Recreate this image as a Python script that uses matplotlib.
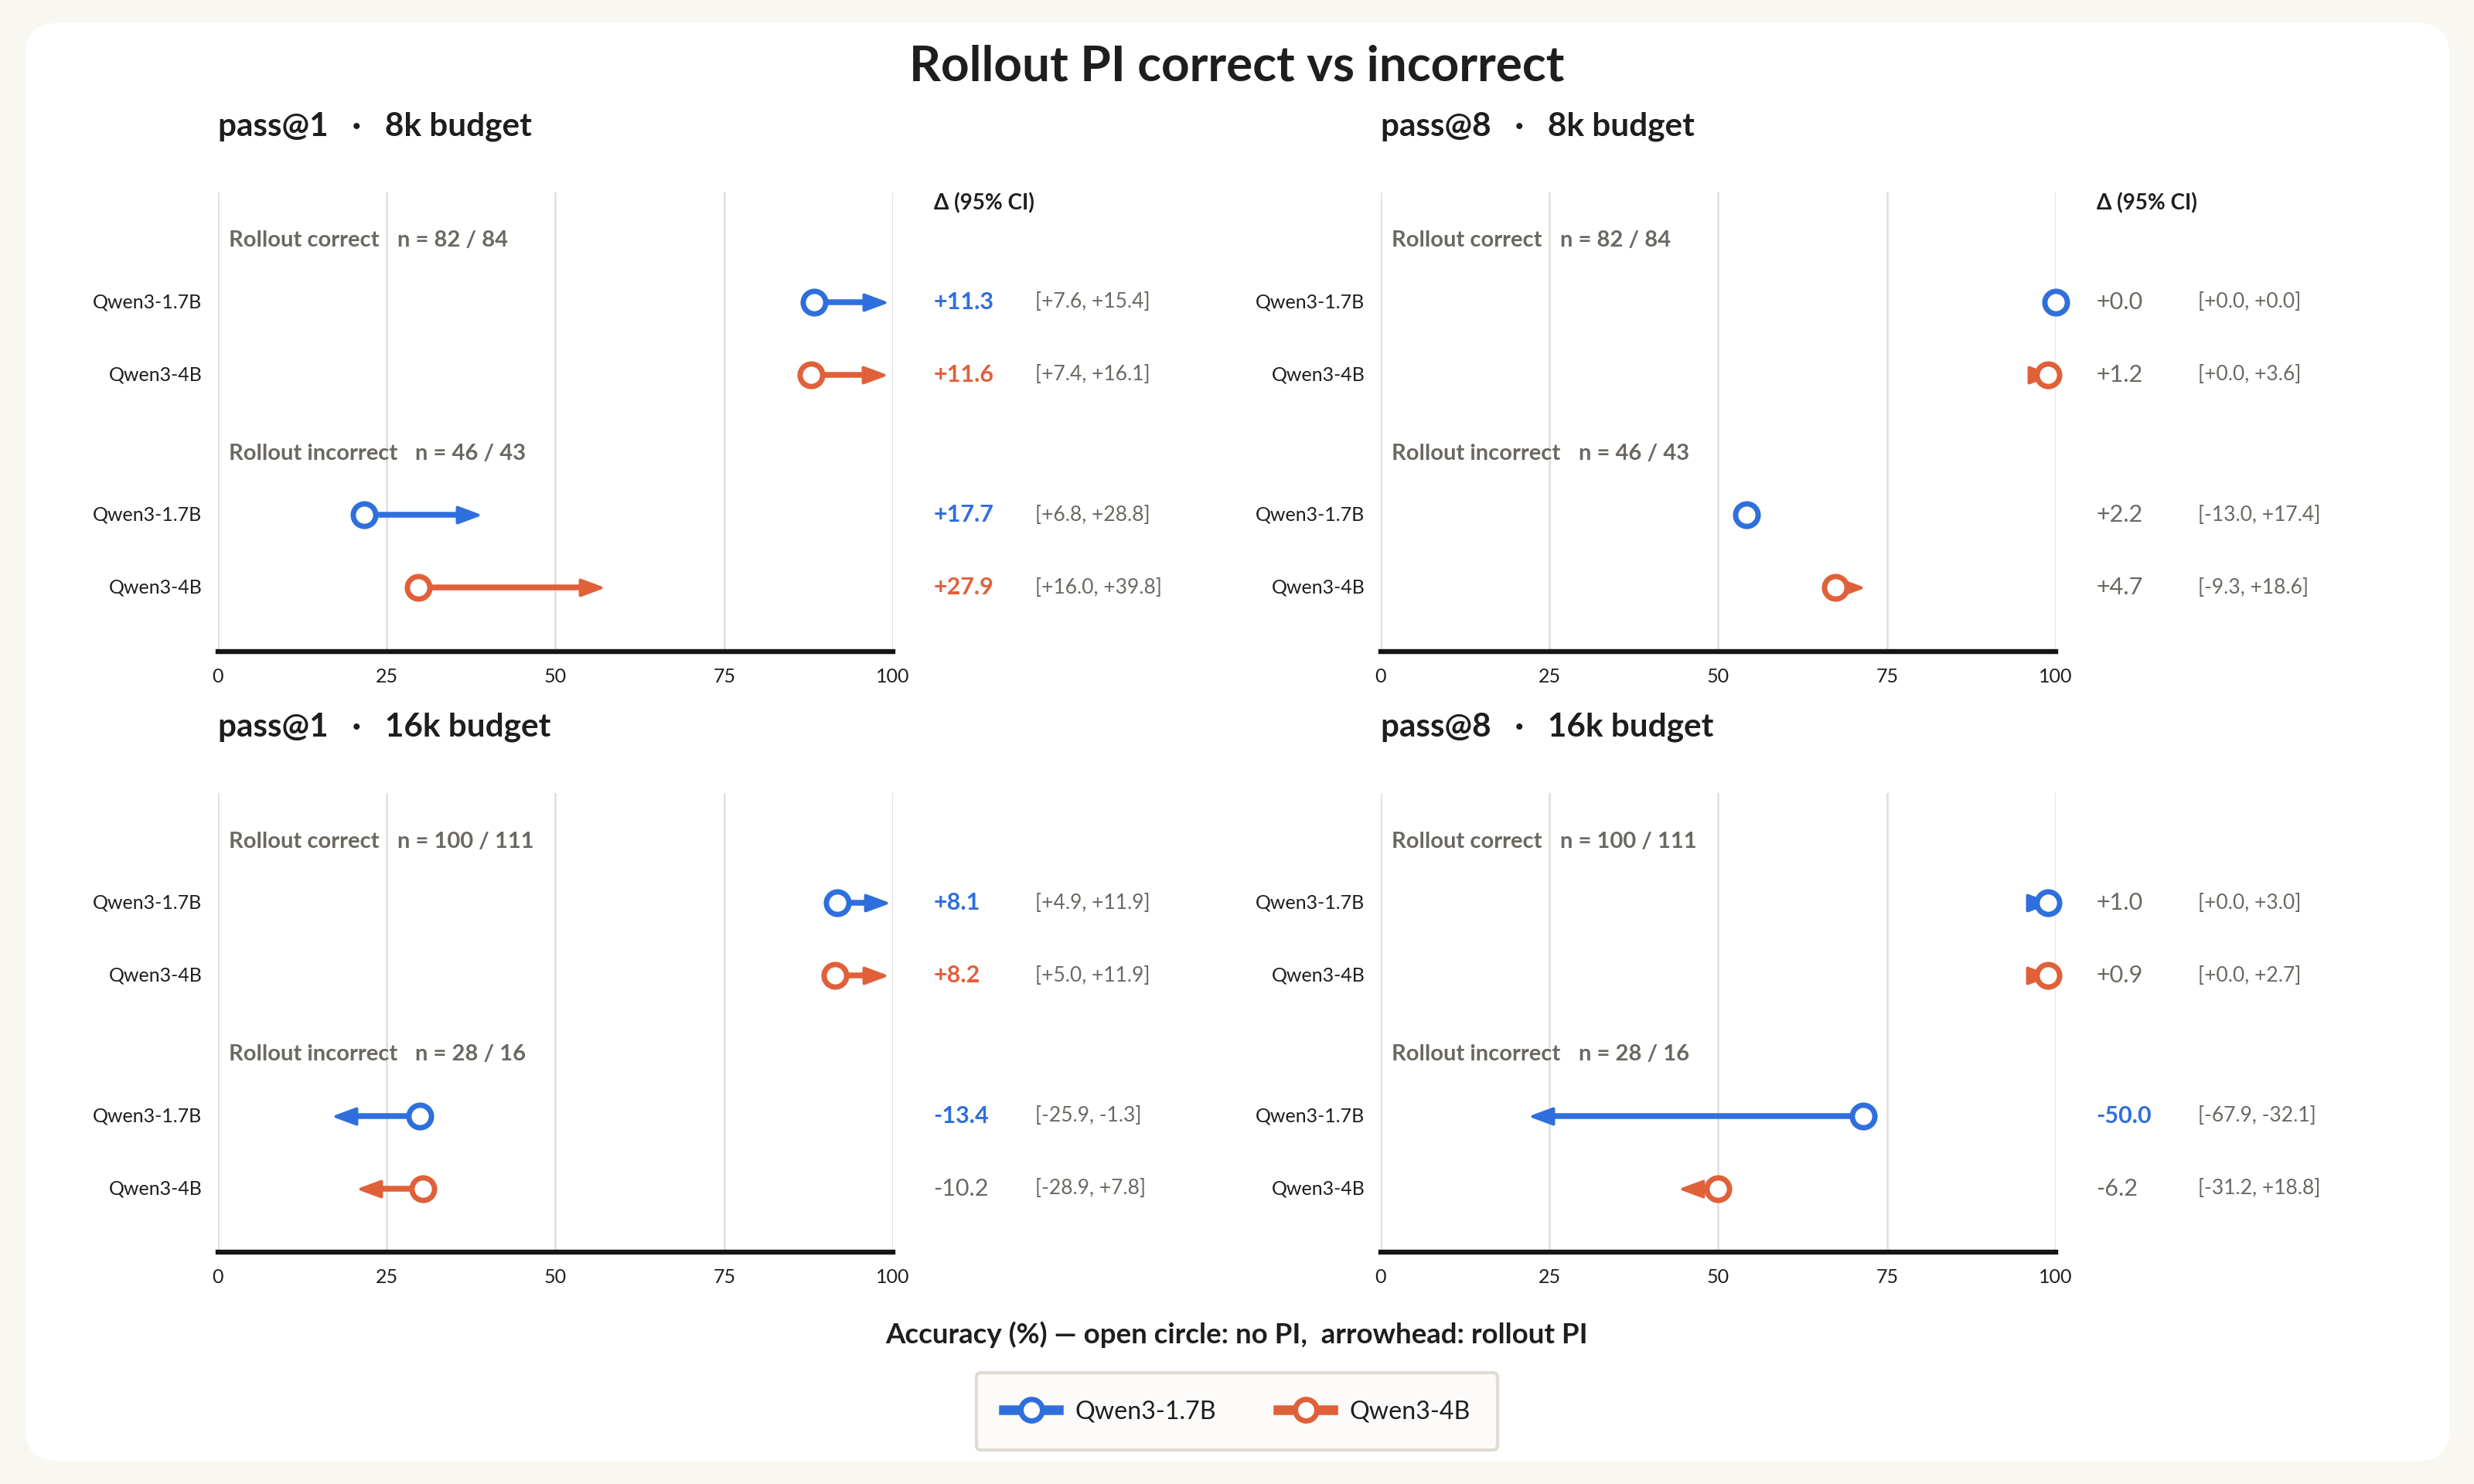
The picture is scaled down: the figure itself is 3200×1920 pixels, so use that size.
import matplotlib

matplotlib.use("Agg")
import matplotlib.pyplot as plt
import matplotlib.transforms as mtransforms
from matplotlib.lines import Line2D
from matplotlib.markers import MarkerStyle
from matplotlib.patches import FancyBboxPatch
from matplotlib.path import Path

plt.rcParams["font.family"] = ["Lato", "DejaVu Sans"]

MODELS = ["Qwen3-1.7B", "Qwen3-4B"]
GROUPS = ["Rollout correct", "Rollout incorrect"]
TICKS = [0, 25, 50, 75, 100]
PANEL_TITLES = [
    "pass@1   ·   8k budget",
    "pass@8   ·   8k budget",
    "pass@1   ·   16k budget",
    "pass@8   ·   16k budget",
]

# row order in every panel: correct/1.7B, correct/4B, incorrect/1.7B, incorrect/4B
P1_8K_NO_PI = [88.3, 87.9, 21.7, 29.7]
P1_8K_ROLLOUT = [99.6, 99.5, 39.4, 57.6]
P1_8K_DELTA = [11.3, 11.6, 17.7, 27.9]
P1_8K_CI_LO = [7.6, 7.4, 6.8, 16.0]
P1_8K_CI_HI = [15.4, 16.1, 28.8, 39.8]

P8_8K_NO_PI = [100.0, 98.8, 54.2, 67.3]
P8_8K_ROLLOUT = [100.0, 100.0, 54.2, 72.0]
P8_8K_DELTA = [0.0, 1.2, 2.2, 4.7]
P8_8K_CI_LO = [0.0, 0.0, -13.0, -9.3]
P8_8K_CI_HI = [0.0, 3.6, 17.4, 18.6]

P1_16K_NO_PI = [91.8, 91.4, 29.9, 30.4]
P1_16K_ROLLOUT = [99.9, 99.6, 16.5, 20.2]
P1_16K_DELTA = [8.1, 8.2, -13.4, -10.2]
P1_16K_CI_LO = [4.9, 5.0, -25.9, -28.9]
P1_16K_CI_HI = [11.9, 11.9, -1.3, 7.8]

P8_16K_NO_PI = [98.8, 98.8, 71.5, 50.0]
P8_16K_ROLLOUT = [99.8, 99.7, 21.5, 43.8]
P8_16K_DELTA = [1.0, 0.9, -50.0, -6.2]
P8_16K_CI_LO = [0.0, 0.0, -67.9, -31.2]
P8_16K_CI_HI = [3.0, 2.7, -32.1, 18.8]

N_8K = [(82, 84), (46, 43)]
N_16K = [(100, 111), (28, 16)]

PANELS = [
    (P1_8K_NO_PI, P1_8K_ROLLOUT, P1_8K_DELTA, P1_8K_CI_LO, P1_8K_CI_HI, N_8K),
    (P8_8K_NO_PI, P8_8K_ROLLOUT, P8_8K_DELTA, P8_8K_CI_LO, P8_8K_CI_HI, N_8K),
    (P1_16K_NO_PI, P1_16K_ROLLOUT, P1_16K_DELTA, P1_16K_CI_LO, P1_16K_CI_HI, N_16K),
    (P8_16K_NO_PI, P8_16K_ROLLOUT, P8_16K_DELTA, P8_16K_CI_LO, P8_16K_CI_HI, N_16K),
]

COLORS = ["#2F6FDD", "#E0603A"]
GRAY = "#6B6862"
INK = "#1E1E1E"
GRID = "#E4E1DA"
PAGE_BG = "#F8F7F2"

W, H, DPI = 3200, 1920, 200
PANEL_LEFT = [281.6, 1785.7]
PANEL_TOP = [249.0, 1026.4]
PANEL_W, PANEL_H = 873.5, 594.0
SUBTITLE_Y = [163.3, 940.8]

# vertical slots inside a panel (y grows downward)
Y_SPAN = 291.0
HEADER_Y = [30.5, 165.5]
ROW_Y = [69.5, 115.5, 204.5, 250.5]

HEAD_LEN_PX = 27
HEAD_GAP_PX = 8


def head_marker(direction):
    # tip sits slightly short of the value, like the reference renderer
    total = HEAD_LEN_PX + HEAD_GAP_PX
    tip = -HEAD_GAP_PX / total
    half = 10 / total
    verts = [(tip, 0), (-1, half), (-1, -half), (tip, 0)]
    if direction < 0:
        verts = [(-x, y) for x, y in verts]
    path = Path(verts, [Path.MOVETO, Path.LINETO, Path.LINETO, Path.CLOSEPOLY])
    return MarkerStyle(path, joinstyle="round")


def fmt(v):
    return f"{v:+.1f}"


fig = plt.figure(figsize=(W / DPI, H / DPI), dpi=DPI)
fig.patch.set_facecolor(PAGE_BG)
card = FancyBboxPatch(
    (33, 30), 3135, 1860,
    boxstyle="round,pad=0,rounding_size=40",
    transform=mtransforms.IdentityTransform(),
    facecolor="white", edgecolor="none", zorder=-5,
)
fig.add_artist(card)

fig.text(0.5, 1 - 86 / H, "Rollout PI correct vs incorrect", ha="center", va="center",
         fontsize=23, fontweight="bold", color=INK)

px_per_unit = PANEL_W / 100.0
head_len_units = HEAD_LEN_PX / px_per_unit
head_gap_units = HEAD_GAP_PX / px_per_unit
head_ms = (HEAD_LEN_PX + HEAD_GAP_PX) / DPI * 72 * 2

for idx, (no_pi, rollout, delta, lo, hi, ns) in enumerate(PANELS):
    col, row = idx % 2, idx // 2
    left = PANEL_LEFT[col]
    top = PANEL_TOP[row]
    ax = fig.add_axes([left / W, 1 - (top + PANEL_H) / H, PANEL_W / W, PANEL_H / H])
    ax.set_facecolor("none")
    ax.set_xlim(0, 100)
    ax.set_ylim(Y_SPAN, 0)
    ax.set_xticks(TICKS)
    ax.set_yticks([])
    ax.tick_params(axis="x", length=0, pad=7.5, labelsize=9, labelcolor=INK)
    ax.grid(axis="x", color=GRID, linewidth=1.0, zorder=0)
    for side in ("left", "right", "top"):
        ax.spines[side].set_visible(False)
    ax.spines["bottom"].set_color("#151515")
    ax.spines["bottom"].set_linewidth(2.3)

    fig.text(left / W, 1 - SUBTITLE_Y[row] / H, PANEL_TITLES[idx], ha="left", va="center",
             fontsize=15.2, fontweight="bold", color=INK)

    blend = mtransforms.blended_transform_factory(ax.transAxes, ax.transData)

    for g, group in enumerate(GROUPS):
        hdr = ax.text(0.016, HEADER_Y[g], group, transform=blend, ha="left", va="center",
                      fontsize=10.5, fontweight="bold", color=GRAY)
        ax.annotate(f"n = {ns[g][0]} / {ns[g][1]}", xy=(1, 0.5), xycoords=hdr,
                    xytext=(8.5, 0), textcoords="offset points", ha="left", va="center",
                    fontsize=10.5, fontweight="bold", color=GRAY)

    if row == 0:
        ax.text(1.06, 7, "Δ (95% CI)", transform=blend, ha="left", va="center",
                fontsize=10, fontweight="bold", color=INK, clip_on=False)

    for i, y in enumerate(ROW_Y):
        m = i % 2
        color = COLORS[m]
        ax.text(-0.023, y, MODELS[m], transform=blend, ha="right", va="center",
                fontsize=9.0, color=INK, clip_on=False)

        base, after = no_pi[i], rollout[i]
        diff = after - base
        if abs(diff) > 1e-9:
            direction = 1 if diff > 0 else -1
            shaft_end = after - direction * (head_gap_units + head_len_units * 0.6)
            if (shaft_end - base) * direction > 0:
                ax.plot([base, shaft_end], [y, y], color=color, linewidth=2.7,
                        solid_capstyle="butt", zorder=3, clip_on=False)
            ax.plot([after], [y], linestyle="none", marker=head_marker(direction),
                    markersize=head_ms, color=color, markeredgecolor=color,
                    markeredgewidth=1.4, zorder=4, clip_on=False)
        ax.plot([base], [y], linestyle="none", marker="o", markersize=10.5,
                markerfacecolor="white", markeredgecolor=color, markeredgewidth=2.5,
                zorder=5, clip_on=False)

        significant = lo[i] > 0 or hi[i] < 0
        ax.text(1.06, y, fmt(delta[i]), transform=blend, ha="left", va="center",
                fontsize=11, fontweight="bold" if significant else "normal",
                color=color if significant else GRAY, clip_on=False)
        ax.text(1.21, y, f"[{fmt(lo[i])}, {fmt(hi[i])}]", transform=blend, ha="left",
                va="center", fontsize=9.5, color=GRAY, clip_on=False)

fig.text(0.5, 1 - 1727 / H, "Accuracy (%) — open circle: no PI,  arrowhead: rollout PI",
         ha="center", va="center", fontsize=13.2, fontweight="bold", color=INK)

handles = [
    Line2D([], [], color=c, linewidth=4.5, marker="o", markersize=10,
           markerfacecolor="white", markeredgecolor=c, markeredgewidth=2.5)
    for c in COLORS
]
leg = fig.legend(handles, MODELS, loc="center", bbox_to_anchor=(0.5, 1 - 1826 / H), ncol=2,
                 fontsize=11.6, handlelength=2.2, handletextpad=0.65, columnspacing=2.5,
                 borderpad=1.1, frameon=True, fancybox=True, framealpha=1.0,
                 facecolor="#FCFBF9", edgecolor="#DEDBD2")
leg.get_frame().set_linewidth(1.5)
for t in leg.get_texts():
    t.set_color(INK)

fig.savefig("out.png", dpi=DPI)
